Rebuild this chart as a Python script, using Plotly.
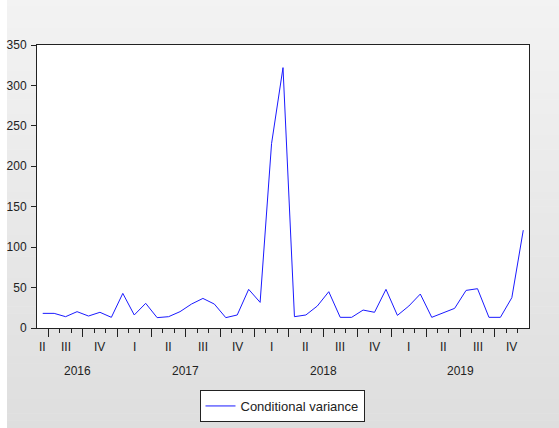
import plotly.graph_objects as go

# Monthly observations, Jun 2016 .. Dec 2019
months = [
    "2016-06", "2016-07", "2016-08", "2016-09", "2016-10", "2016-11", "2016-12",
    "2017-01", "2017-02", "2017-03", "2017-04", "2017-05", "2017-06",
    "2017-07", "2017-08", "2017-09", "2017-10", "2017-11", "2017-12",
    "2018-01", "2018-02", "2018-03", "2018-04", "2018-05", "2018-06",
    "2018-07", "2018-08", "2018-09", "2018-10", "2018-11", "2018-12",
    "2019-01", "2019-02", "2019-03", "2019-04", "2019-05", "2019-06",
    "2019-07", "2019-08", "2019-09", "2019-10", "2019-11", "2019-12",
]
cond_variance = [
    18.1, 18.1, 14.0, 20.2, 14.8, 19.4, 13.2,
    42.8, 16.1, 30.5, 12.8, 14.0, 20.2,
    29.6, 36.6, 29.6, 12.8, 16.1, 47.8,
    31.7, 228.0, 322.0, 14.0, 16.1, 27.2,
    44.9, 13.2, 13.2, 22.2, 19.4, 47.8,
    15.6, 27.2, 42.0, 13.2, 18.9, 24.3,
    46.5, 48.6, 13.2, 13.2, 37.5, 121.0,
]
series_name = "Conditional variance"
quarter_names = ["I", "II", "III", "IV"]
y_ticks = [0, 50, 100, 150, 200, 250, 300, 350]

idx = list(range(len(months)))
years = [int(m[:4]) for m in months]
mons = [int(m[5:]) for m in months]
quarters = [(y, (mo - 1) // 3) for y, mo in zip(years, mons)]

# tick positions (boundaries between months)
month_bounds = [i - 0.5 for i in idx[1:]]
quarter_bounds = [i - 0.5 for i in idx[1:] if (mons[i] - 1) % 3 == 0]

q_groups = {}
for i, q in zip(idx, quarters):
    q_groups.setdefault(q, []).append(i)
y_groups = {}
for i, y in zip(idx, years):
    y_groups.setdefault(y, []).append(i)

FONT = "Liberation Sans, Arial, sans-serif"
W, H = 559, 428
L, R, T, B = 37, 30, 45, 100
pw, ph = W - L - R, H - T - B

fig = go.Figure()
fig.add_trace(go.Scatter(
    x=idx, y=cond_variance, mode="lines", name=series_name,
    line=dict(color="#1a1aff", width=1), showlegend=True,
))

# background gradient bands (paper coordinates extended beyond plot area)
shapes = []
nb = 60
x0p = (7 - L) / pw
x1p = (W - L) / pw
for k in range(nb):
    ytop = k * H / nb
    ybot = (k + 1) * H / nb
    frac = (k + 0.5) / nb
    c = int(round(243 - (243 - 222) * frac))
    col = f"rgb({c},{c},{c})"
    shapes.append(dict(
        type="rect", xref="paper", yref="paper", layer="below",
        x0=x0p, x1=x1p,
        y0=(H - B - ybot) / ph, y1=(H - B - ytop) / ph + 0.002,
        fillcolor=col, line=dict(width=0),
    ))
shapes.append(dict(type="rect", xref="paper", yref="paper", layer="below",
                   x0=0, x1=1, y0=0, y1=1, fillcolor="white",
                   line=dict(width=0)))

annotations = []
for (yr, q), members in q_groups.items():
    cx = (min(members) + max(members)) / 2
    annotations.append(dict(
        x=cx, y=0, xref="x", yref="paper", text=quarter_names[q],
        showarrow=False, yanchor="middle", yshift=-19,
        font=dict(family=FONT, size=12, color="#222"),
    ))
for yr, members in y_groups.items():
    cx = (min(members) + max(members)) / 2
    annotations.append(dict(
        x=cx, y=0, xref="x", yref="paper", text=str(yr),
        showarrow=False, yanchor="middle", yshift=-43,
        font=dict(family=FONT, size=12, color="#222"),
    ))

fig.update_layout(
    width=W, height=H,
    margin=dict(l=L, r=R, t=T, b=B, autoexpand=False),
    paper_bgcolor="white",
    plot_bgcolor="white",
    font=dict(family=FONT, size=12, color="#222"),
    shapes=shapes,
    annotations=annotations,
    showlegend=True,
    legend=dict(
        orientation="h", x=(282 - L) / pw, xanchor="center",
        y=(H - B - 390) / ph, yanchor="top",
        bgcolor="white", bordercolor="#222", borderwidth=1,
        font=dict(family=FONT, size=13, color="#222"),
        itemwidth=30,
    ),
    xaxis=dict(
        range=[-0.5, len(months) - 0.5],
        tickmode="array", tickvals=quarter_bounds, showticklabels=False,
        ticks="outside", ticklen=8, tickcolor="#222", tickwidth=1,
        minor=dict(tickmode="array", tickvals=month_bounds, ticks="outside",
                   ticklen=4, tickcolor="#222", tickwidth=1, showgrid=False),
        showline=True, linecolor="#222", linewidth=1, mirror=True,
        showgrid=False, zeroline=False, automargin=False,
    ),
    yaxis=dict(
        range=[0, 350], tickmode="array", tickvals=y_ticks,
        ticks="outside", ticklen=5, tickcolor="#222", tickwidth=1,
        tickfont=dict(family=FONT, size=12, color="#222"),
        showline=True, linecolor="#222", linewidth=1, mirror=True,
        showgrid=False, zeroline=False, ticklabelstandoff=2,
        automargin=False,
    ),
)

fig.write_html(
    "out.html",
    config={"displayModeBar": False},
    post_script="document.body.style.margin='0';document.body.style.padding='0';",
)
